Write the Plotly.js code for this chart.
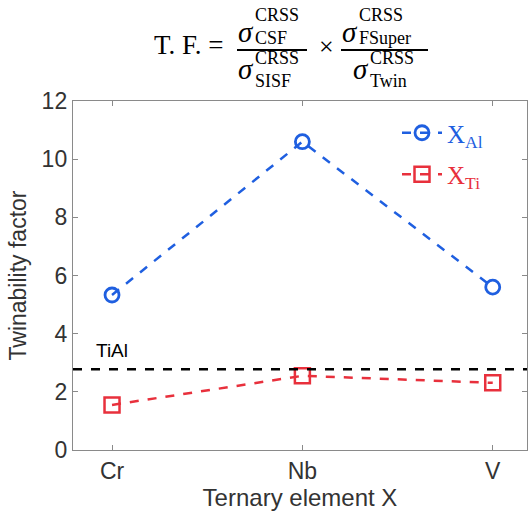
<!DOCTYPE html>
<html>
<head>
<meta charset="utf-8">
<script src="https://cdn.plot.ly/plotly-3.0.1.min.js"></script>
<style>html,body{margin:0;padding:0;background:#fff;}#chart{width:528px;height:514px;}</style>
</head>
<body>
<div id="chart"></div>
<script>
// ---- data ----
var elements = ["Cr", "Nb", "V"];
var xAl = [5.33, 10.6, 5.6];
var xTi = [1.55, 2.55, 2.31];
var tiAlValue = 2.78;
var yTicks = [0, 2, 4, 6, 8, 10, 12];

// ---- layout geometry (pixels) ----
var W = 528, H = 514;
var L = 73, R = 527, T = 101, B = 450;
function px(x) { return (x - L) / (R - L); }
function py(y) { return (B - y) / (B - T); }

var blue = "#1f5fe0";
var red = "#e8303c";
var serif = "Liberation Serif, Times New Roman, serif";
var sans = "Liberation Sans, Arial, sans-serif";

var traces = [
  {
    x: elements, y: xAl, type: "scatter", mode: "lines+markers",
    name: "<span style='color:" + blue + "'>X<sub>Al</sub></span>",
    legendgroup: "a",
    line: {color: blue, width: 2.5, dash: "dash"},
    marker: {symbol: "circle-open", size: 14, color: blue, line: {width: 2.8, color: blue}}
  },
  {
    x: elements, y: xTi, type: "scatter", mode: "lines+markers",
    name: "<span style='color:" + red + "'>X<sub>Ti</sub></span>",
    legendgroup: "b",
    line: {color: red, width: 2.5, dash: "dash"},
    marker: {symbol: "square-open", size: 15, color: red, line: {width: 2.5, color: red}}
  }
];

var ann = [];
function txt(x, y, t, size, anchor, italic) {
  ann.push({xref: "paper", yref: "paper", x: px(x), y: py(y), text: t, showarrow: false,
    xanchor: anchor || "left", yanchor: "middle", borderpad: 0,
    font: {family: serif, size: size, color: "#000", style: italic ? "italic" : "normal"}});
}
// title formula
txt(153, 45, "T. F. =", 27);
txt(237, 32, "σ", 29, "left", true);
txt(254, 15, "CRSS", 18);
txt(254, 38, "CSF", 18);
txt(237, 69, "σ", 29, "left", true);
txt(254, 58, "CRSS", 18);
txt(254, 81, "SISF", 18);
txt(326, 46, "×", 26, "center");
txt(341, 32, "σ", 29, "left", true);
txt(358, 15, "CRSS", 18);
txt(358, 38, "FSuper", 18);
txt(352, 69, "σ", 29, "left", true);
txt(369, 58, "CRSS", 18);
txt(369, 81, "Twin", 18);
// TiAl label
ann.push({xref: "x", yref: "paper", x: elements[0], y: py(350), text: "TiAl", showarrow: false,
  xanchor: "center", yanchor: "middle", font: {family: sans, size: 19, color: "#000"}});

var shapes = [
  {type: "line", xref: "paper", yref: "y", x0: 0, x1: 1, y0: tiAlValue, y1: tiAlValue,
   line: {color: "#000", width: 2.5, dash: "dash"}},
  {type: "line", xref: "paper", yref: "paper", x0: px(237), x1: px(307), y0: py(50), y1: py(50),
   line: {color: "#000", width: 1.8}},
  {type: "line", xref: "paper", yref: "paper", x0: px(341), x1: px(428), y0: py(50), y1: py(50),
   line: {color: "#000", width: 1.8}}
];

var layout = {
  width: W, height: H,
  margin: {l: L, r: W - R, t: T, b: H - B, pad: 0},
  paper_bgcolor: "#fff", plot_bgcolor: "#fff",
  showlegend: true,
  legend: {x: px(397), y: py(110), xanchor: "left", yanchor: "top", traceorder: "grouped",
    bgcolor: "rgba(0,0,0,0)", font: {family: serif, size: 25}, tracegroupgap: 6, itemwidth: 40},
  xaxis: {
    type: "category", range: [-0.205, 2.18], showgrid: false, zeroline: false,
    showline: true, linecolor: "#8a8a8a", linewidth: 1.2, mirror: "ticks",
    ticks: "inside", ticklen: 5, tickcolor: "#8a8a8a",
    tickfont: {family: sans, size: 23, color: "#333"},
    title: {text: "Ternary element X", font: {family: sans, size: 24, color: "#333"}, standoff: 4}
  },
  yaxis: {
    range: [0, 12], tickvals: yTicks, showgrid: false, zeroline: false,
    showline: true, linecolor: "#8a8a8a", linewidth: 1.2, mirror: "ticks",
    ticks: "inside", ticklen: 5, tickcolor: "#8a8a8a",
    tickfont: {family: sans, size: 23, color: "#333"},
    title: {text: "Twinability factor", font: {family: sans, size: 23, color: "#333"}, standoff: 8}
  },
  annotations: ann,
  shapes: shapes
};

Plotly.newPlot("chart", traces, layout, {displayModeBar: false, staticPlot: true});
</script>
</body>
</html>
